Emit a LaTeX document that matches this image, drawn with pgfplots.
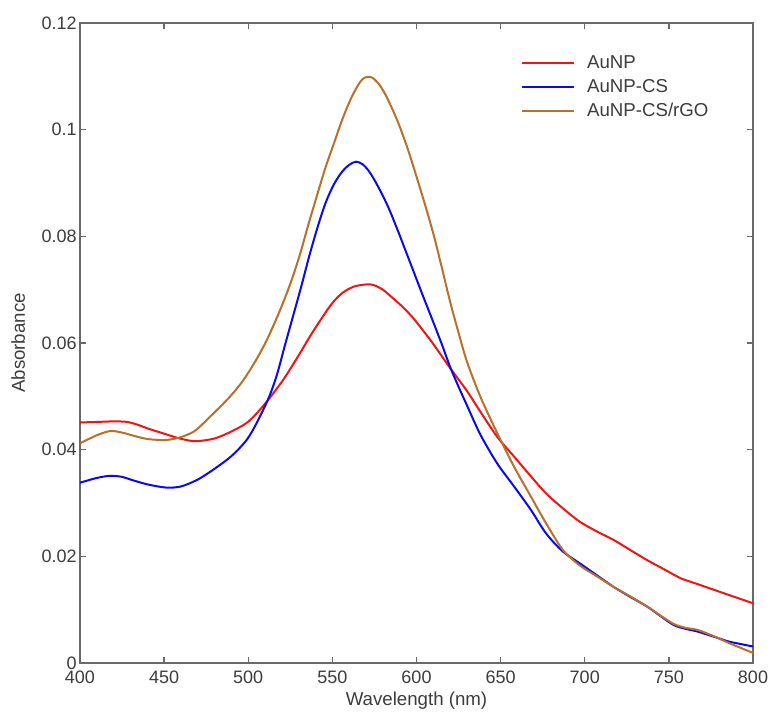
\documentclass[border=0pt]{standalone}
\usepackage{pgfplots}
\pgfplotsset{compat=1.18}
\usepackage{fontspec}
\setmainfont{Liberation Sans}
\definecolor{cred}{RGB}{240,20,20}
\definecolor{cblue}{RGB}{10,10,235}
\definecolor{cbrown}{RGB}{185,112,42}
\definecolor{axgray}{RGB}{105,105,105}
\definecolor{txtgray}{RGB}{60,60,60}
\begin{document}
\begin{tikzpicture}
\begin{axis}[
  scale only axis,
  width=504.75pt, height=480pt,
  xmin=400, xmax=800, ymin=0, ymax=0.12,
  xtick={400,450,500,550,600,650,700,750,800},
  ytick={0,0.02,0.04,0.06,0.08,0.1,0.12},
  yticklabels={0,0.02,0.04,0.06,0.08,0.1,0.12},
  tick align=inside,
  major tick length=4.5pt,
  axis line style={axgray, line width=1.1pt},
  every tick/.style={axgray, line width=1.1pt},
  tick label style={font=\fontsize{13.5}{16}\selectfont, text=txtgray},
  xticklabel style={yshift=-2.5pt},
  yticklabel style={xshift=1pt},
  /pgf/number format/assume math mode=true,
  xlabel={Wavelength (nm)},
  ylabel={Absorbance},
  label style={font=\fontsize{14}{16}\selectfont, text=txtgray},
  xlabel style={at={(axis description cs:0.5,-0.059)}, anchor=center},
  ylabel style={at={(axis description cs:-0.092,0.5)}, anchor=center},
  legend style={draw=none, fill=none, at={(0.655,0.956)}, anchor=north west,
    inner sep=0pt, row sep=0pt,
    nodes={text height=11pt, text depth=3pt, inner sep=2pt},
    font=\fontsize{14}{16}\selectfont, text=txtgray},
  legend cell align=left,
  legend image code/.code={\draw[#1, line width=1.6pt] (0pt,0pt) -- (39pt,0pt); \path (46pt,0pt);},
]
\addplot[cred, line width=1.5pt, smooth, tension=0.5] coordinates {
(400,0.0451)(410,0.0452)(420,0.0453)(428,0.0452)(435,0.0446)(440,0.0440)
(450,0.0430)(458,0.0422)(465,0.0417)(470,0.0416)(480,0.0421)(490,0.0434)
(499,0.0450)(505,0.0468)(512,0.0494)(521,0.0532)(530,0.0577)(537,0.0614)
(544,0.0648)(550,0.0675)(556,0.0694)(563,0.0706)(571,0.0710)(575,0.0708)
(580,0.0700)(586,0.0684)(592,0.0667)(598,0.0647)(604,0.0623)(610,0.0598)
(620,0.0553)(630,0.0510)(638,0.0471)(648,0.0424)(658,0.0387)
(668,0.0350)(677,0.0318)(687,0.0290)(697,0.0265)(707,0.0247)(717,0.0231)
(727,0.0212)(737,0.0193)(747,0.0176)(757,0.0159)(767,0.0148)(777,0.0137)
(788,0.0125)(800,0.0112)};
\addlegendentry{AuNP}
\addplot[cblue, line width=1.5pt, smooth, tension=0.5] coordinates {
(400,0.0338)(410,0.0347)(418,0.0351)(425,0.0349)(430,0.0344)(440,0.0335)
(451,0.0329)(460,0.0331)(470,0.0344)(479,0.0362)(490,0.0388)(499,0.0418)
(505,0.0450)(512,0.0496)(517,0.0540)(522,0.0598)(531,0.0700)(536,0.0760)
(541,0.0815)(546,0.0863)(551,0.0898)(556,0.0922)(560,0.0934)(564,0.0940)
(568,0.0935)(572,0.0921)(576,0.0900)(580,0.0876)(584,0.0849)(589,0.0810)
(594,0.0769)(599,0.0728)(604,0.0687)(609,0.0647)(615,0.0598)(620,0.0555)
(625,0.0518)(630,0.0483)(638,0.0428)
(648,0.0374)(658,0.0331)(668,0.0287)(677,0.0243)(687,0.0209)(697,0.0187)
(707,0.0165)(717,0.0143)(727,0.0124)(737,0.0106)(745,0.0088)(753,0.0071)
(760,0.0064)(767,0.0059)(777,0.0049)(786,0.0040)(800,0.0031)};
\addlegendentry{AuNP-CS}
\addplot[cbrown, line width=1.5pt, smooth, tension=0.5] coordinates {
(400,0.0412)(410,0.0427)(418,0.0435)(425,0.0432)(432,0.0426)(440,0.0420)
(450,0.0418)(457,0.0421)(463,0.0427)(469,0.0437)(479,0.0467)(489,0.0499)
(497,0.0530)(505,0.0570)(512,0.0612)(520,0.0670)(526,0.0720)(531,0.0769)
(536,0.0825)(541,0.0878)(546,0.0930)(551,0.0975)(556,0.1020)(561,0.1058)
(565,0.1082)(568,0.1095)(571,0.1099)(574,0.1097)(578,0.1084)(582,0.1063)
(586,0.1036)(590,0.1006)(595,0.0962)(600,0.0912)(605,0.0860)(610,0.0805)
(615,0.0742)(620,0.0677)(625,0.0619)(630,0.0565)(638,0.0499)
(648,0.0431)(658,0.0368)(668,0.0312)(677,0.0262)(687,0.0212)(697,0.0183)
(707,0.0163)(717,0.0143)(727,0.0125)(737,0.0106)(745,0.0089)(753,0.0073)
(760,0.0066)(767,0.0062)(777,0.0050)(786,0.0037)(800,0.0019)};
\addlegendentry{AuNP-CS/rGO}
\end{axis}
\pgfresetboundingbox
\path ([shift={(-60pt,-36pt)}]current axis.south west) rectangle ([shift={(13.5pt,17.25pt)}]current axis.north east);
\end{tikzpicture}
\end{document}
